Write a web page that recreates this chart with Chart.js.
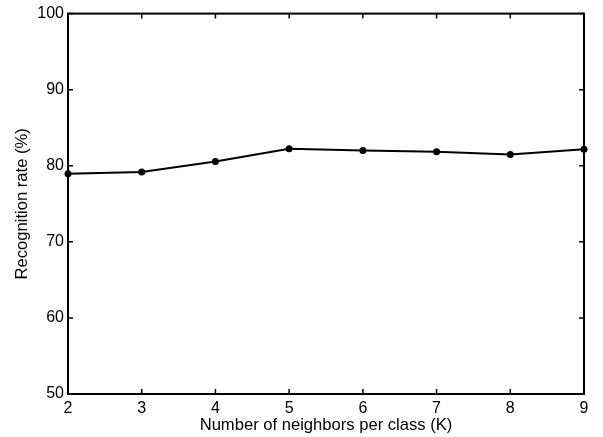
<!DOCTYPE html>
<html>
<head>
<meta charset="utf-8">
<script src="https://cdn.jsdelivr.net/npm/chart.js@4/dist/chart.umd.min.js"></script>
<style>
  html, body { margin: 0; padding: 0; background: #ffffff; }
  #wrap { width: 603px; height: 437px; }
</style>
</head>
<body>
<div id="wrap"><canvas id="c" width="603" height="437"></canvas></div>
<script>
// ---- data ----
const kValues = [2, 3, 4, 5, 6, 7, 8, 9];
const recognitionRate = [78.96, 79.17, 80.57, 82.22, 82.0, 81.83, 81.48, 82.17];
const xTickValues = [2, 3, 4, 5, 6, 7, 8, 9];
const yTickValues = [50, 60, 70, 80, 90, 100];
const xTitle = 'Number of neighbors per class (K)';
const yTitle = 'Recognition rate (%)';

const FONT = "'Liberation Sans', Arial, Helvetica, sans-serif";

// MATLAB-style box with inward ticks, using the chart's own scales
const boxPlugin = {
  id: 'matlabBox',
  afterDraw(chart) {
    const { ctx, chartArea: a, scales } = chart;
    const tl = 5;
    ctx.save();
    ctx.strokeStyle = '#000';
    ctx.lineWidth = 1.5;
    ctx.beginPath();
    scales.x.ticks.forEach(t => {
      const px = scales.x.getPixelForValue(t.value);
      ctx.moveTo(px, a.bottom); ctx.lineTo(px, a.bottom - tl);
      ctx.moveTo(px, a.top); ctx.lineTo(px, a.top + tl);
    });
    scales.y.ticks.forEach(t => {
      const py = scales.y.getPixelForValue(t.value);
      ctx.moveTo(a.left, py); ctx.lineTo(a.left + tl, py);
      ctx.moveTo(a.right, py); ctx.lineTo(a.right - tl, py);
    });
    ctx.stroke();
    ctx.lineWidth = 2;
    ctx.strokeRect(a.left, a.top, a.right - a.left, a.bottom - a.top);
    ctx.restore();
  }
};

new Chart(document.getElementById('c'), {
  type: 'line',
  data: {
    datasets: [{
      data: kValues.map((k, i) => ({ x: k, y: recognitionRate[i] })),
      borderColor: '#000',
      backgroundColor: '#000',
      borderWidth: 2,
      pointRadius: 3.5,
      pointHoverRadius: 3.5,
      pointBackgroundColor: '#000',
      pointBorderWidth: 0,
      tension: 0,
      clip: false
    }]
  },
  options: {
    responsive: false,
    animation: false,
    events: [],
    layout: { padding: { left: 0, right: 19, top: 10, bottom: 0 } },
    plugins: { legend: { display: false }, tooltip: { enabled: false } },
    scales: {
      x: {
        type: 'linear',
        min: 2, max: 9,
        afterBuildTicks(scale) { scale.ticks = xTickValues.map(v => ({ value: v })); },
        afterFit(scale) { scale.height = 43; },
        grid: { display: false, drawTicks: false },
        border: { display: false },
        ticks: { color: '#000', padding: 5, font: { family: FONT, size: 16 }, maxRotation: 0, autoSkip: false },
        title: { display: true, text: xTitle, color: '#000', font: { family: FONT, size: 16.6 }, padding: { top: 0, bottom: 2 } }
      },
      y: {
        type: 'linear',
        min: 50, max: 100,
        afterBuildTicks(scale) { scale.ticks = yTickValues.map(v => ({ value: v })); },
        afterFit(scale) { scale.width = 68; },
        grid: { display: false, drawTicks: false },
        border: { display: false },
        ticks: { color: '#000', padding: 4, font: { family: FONT, size: 16 }, autoSkip: false },
        title: { display: true, text: yTitle, color: '#000', font: { family: FONT, size: 16.6 }, padding: { top: 12, bottom: 0 } }
      }
    }
  },
  plugins: [boxPlugin]
});
</script>
</body>
</html>
